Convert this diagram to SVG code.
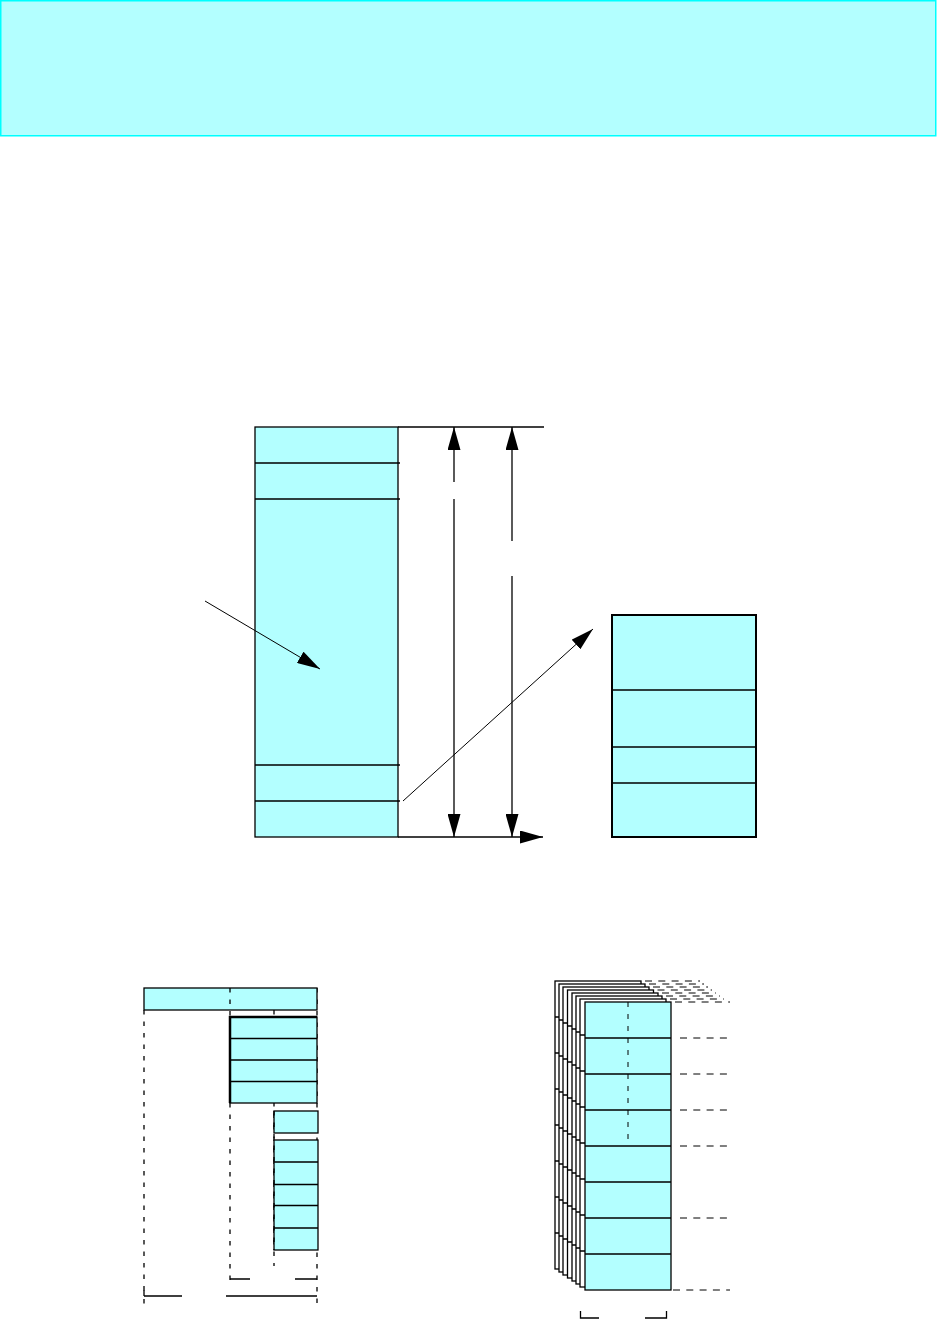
<svg xmlns="http://www.w3.org/2000/svg" width="937" height="1323" viewBox="0 0 937 1323">
<style>
.cy{fill:#b3ffff;stroke:#000;stroke-width:1.3}
.ln{stroke:#000;stroke-width:1.3;fill:none}
.th{stroke:#000;stroke-width:1;fill:none}
.ds{stroke:#000;stroke-width:1.3;fill:none;stroke-dasharray:4.5 7}
.dr{stroke:#000;stroke-width:1;fill:none;stroke-dasharray:7 6.3}
.pg{fill:#fff;stroke:#000;stroke-width:1.3}
</style>
<defs>
<marker id="ah" viewBox="0 0 23 13" refX="23" refY="6.5" markerWidth="23" markerHeight="13" markerUnits="userSpaceOnUse" orient="auto">
<path d="M0,0 L23,6.5 L0,13 Z" fill="#000"/>
</marker>
<g id="page">
<rect class="pg" x="0" y="0" width="86" height="288"/>
<path class="ln" d="M0,36H86M0,72H86M0,108H86M0,144H86M0,180H86M0,216H86M0,252H86"/>
</g>
</defs>

<g id="banner">
<rect x="0.75" y="0.75" width="935" height="135" fill="#b3ffff" stroke="#00ffff" stroke-width="1.5"/>
</g>

<g id="memory-map">
<rect class="cy" x="255" y="427" width="143" height="410"/>
<path class="ln" d="M255,463H400M255,499H400M255,765H400M255,801H400"/>
</g>

<g id="detail-box">
<rect x="612" y="615" width="144" height="222" fill="#b3ffff" stroke="#000" stroke-width="2"/>
<path class="ln" d="M612,690H756M612,747H756M612,783H756"/>
</g>

<g id="paging-left">
<path class="ds" d="M144,1010V1296M144,1299V1310"/>
<path class="ds" d="M317,988V1310"/>
<path class="ds" d="M274,1010V1266"/>
<rect class="cy" x="144" y="988" width="173" height="22"/>
<rect class="cy" x="230" y="1017" width="87" height="86"/>
<path class="ln" d="M230,1038.5H317M230,1060H317M230,1081.5H317"/>
<path stroke="#000" stroke-width="2.5" fill="none" d="M230,1103V1017H317"/>
<rect class="cy" x="274" y="1111" width="44" height="22"/>
<rect class="cy" x="274" y="1140" width="44" height="110"/>
<path class="ln" d="M274,1162H318M274,1184.5H318M274,1205.5H318M274,1228H318"/>
<path class="ds" d="M230,988V1286"/>
<path class="ds" d="M274,1111V1250"/>
<path class="ln" d="M230,1279H250M295,1279H317M144,1296H182M226,1296H317M144,1290V1296"/>
</g>

<g id="paging-right">
<use href="#page" x="555" y="981"/>
<use href="#page" x="559" y="984"/>
<use href="#page" x="563" y="987"/>
<use href="#page" x="567.5" y="990"/>
<use href="#page" x="572" y="993"/>
<use href="#page" x="576" y="996"/>
<use href="#page" x="580" y="999"/>
<rect class="cy" x="585" y="1002" width="86" height="288"/>
<path class="ln" d="M585,1038H671M585,1074H671M585,1110H671M585,1146H671M585,1182H671M585,1218H671M585,1254H671"/>
<path class="th" stroke-dasharray="5 7" d="M628,1002V1146"/>
<path class="dr" d="M645,981H700M649,984H704M653,987H708M657.5,990H712M662,993H716M666,996H720M670,999H724M675,1002H730"/>
<path class="dr" d="M680,1038H730M680,1074H730M680,1110H730M680,1146H730M680,1218H730M673,1290H730"/>
<path class="ln" d="M580.5,1311V1318H599M645,1318H666.5V1311"/>
</g>

<g id="connectors">
<path class="ln" d="M398,427H544"/>
<path class="ln" d="M398,837H543" marker-end="url(#ah)"/>
<path class="ln" d="M454,482V427" marker-end="url(#ah)"/>
<path class="ln" d="M454,499V837" marker-end="url(#ah)"/>
<path class="ln" d="M512,541V427" marker-end="url(#ah)"/>
<path class="ln" d="M512,576V837" marker-end="url(#ah)"/>
<path class="th" d="M205,601L320,669" marker-end="url(#ah)"/>
<path class="th" d="M403,801L593,629" marker-end="url(#ah)"/>
</g>
</svg>
